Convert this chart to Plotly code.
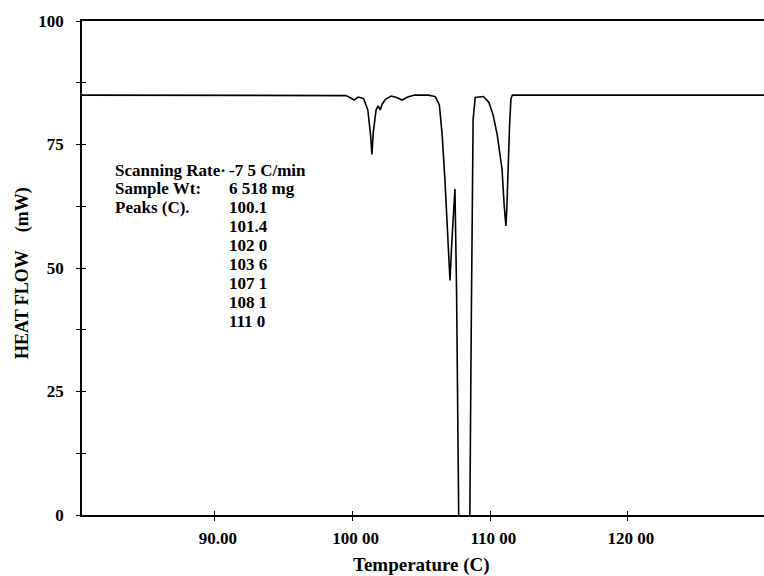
import plotly.graph_objects as go

# ---- data ----
temperature = [80.34, 85.0, 90.0, 95.0, 98.0, 99.5, 99.8, 100.1, 100.4, 100.8, 101.1, 101.3,
               101.4, 101.5, 101.7, 101.85, 102.0, 102.15, 102.4, 102.8, 103.2, 103.6, 104.0,
               104.5, 105.5, 106.0, 106.3, 106.5, 106.7, 106.9, 107.07, 107.2, 107.33, 107.43,
               107.55, 107.72, 107.9, 108.3, 108.5, 108.62, 108.75, 108.9, 109.2, 109.5, 109.9,
               110.2, 110.5, 110.85, 111.0, 111.13, 111.2, 111.28, 111.4, 111.5, 111.6, 112.0,
               115.0, 120.0, 125.0, 130.0]
heat_flow = [85.0, 85.0, 85.0, 85.0, 85.0, 84.9, 84.5, 84.0, 84.6, 84.3, 82.0, 77.0,
             73.0, 77.5, 82.0, 82.8, 82.0, 83.2, 84.2, 84.8, 84.5, 84.0, 84.6,
             85.0, 85.0, 84.7, 83.0, 77.0, 68.0, 57.0, 47.5, 55.0, 63.0, 66.0,
             45.0, -5.0, -5.0, -5.0, -5.0, 40.0, 80.0, 84.5, 84.6, 84.7, 83.5,
             81.0, 77.0, 70.0, 63.0, 58.5, 62.0, 70.0, 79.0, 84.3, 85.0, 85.0,
             85.0, 85.0, 85.0, 85.0]

x_tick_values = [90, 100, 110, 120]
x_tick_labels = ["90.00", "100 00", "110 00", "120 00"]
y_tick_values = [0, 25, 50, 75, 100]
y_tick_labels = ["0", "25", "50", "75", "100"]

info_labels = ["Scanning Rate·", "Sample Wt:", "Peaks (C)."]
info_values = ["-7 5 C/min", "6 518 mg", "100.1", "101.4", "102 0", "103 6",
               "107 1", "108 1", "111 0"]

x_title = "Temperature (C)"
y_title = "HEAT FLOW\u00a0\u00a0\u00a0\u00a0(mW)"

# ---- figure ----
FONT = "Liberation Serif"
fig = go.Figure()
fig.add_trace(go.Scatter(x=temperature, y=heat_flow, mode="lines",
                         line=dict(color="black", width=1.6), showlegend=False,
                         hoverinfo="skip"))
# invisible trace to carry the overlay axes (inside half of the cross ticks)
fig.add_trace(go.Scatter(x=[temperature[0]], y=[heat_flow[0]], xaxis="x2", yaxis="y2",
                         mode="markers", marker=dict(opacity=0), showlegend=False,
                         hoverinfo="skip"))

xr = [80.34, 129.88]
yr = [0, 100]

fig.update_layout(
    width=764, height=576,
    margin=dict(l=82, r=0, t=21, b=61),
    paper_bgcolor="white", plot_bgcolor="white",
    font=dict(family=FONT, size=17, color="black", weight="bold"),
    xaxis=dict(range=xr, tickvals=x_tick_values, ticktext=x_tick_labels,
               showgrid=False, zeroline=False, showline=True, linecolor="black",
               linewidth=1.6, mirror=True, ticks="outside", ticklen=4, tickwidth=1.2,
               tickcolor="black", ticklabelstandoff=3, ticklabelshift=3,
               tickfont=dict(family=FONT, size=17, weight="bold")),
    yaxis=dict(range=yr, tickvals=y_tick_values, ticktext=y_tick_labels,
               showgrid=False, zeroline=False, showline=True, linecolor="black",
               linewidth=1.6, ticks="outside", ticklen=4, tickwidth=1.2,
               tickcolor="black", ticklabelstandoff=9,
               minor=dict(dtick=12.5, tick0=0, ticks="outside", ticklen=4,
                          tickwidth=1.2, tickcolor="black"),
               tickfont=dict(family=FONT, size=17, weight="bold")),
    xaxis2=dict(range=xr, overlaying="x", anchor="y", side="bottom",
                tickvals=x_tick_values, showticklabels=False, ticks="inside",
                ticklen=4, tickwidth=1.2, tickcolor="black", showgrid=False,
                zeroline=False, showline=False),
    yaxis2=dict(range=yr, overlaying="y", anchor="x", side="left",
                tickvals=y_tick_values, showticklabels=False, ticks="inside",
                ticklen=4, tickwidth=1.2, tickcolor="black", showgrid=False,
                zeroline=False, showline=False,
                minor=dict(dtick=12.5, tick0=0, ticks="inside", ticklen=4,
                           tickwidth=1.2, tickcolor="black")),
)

PW, PH, L, T = 682.0, 494.0, 82.0, 21.0

def px(xp):
    return (xp - L) / PW

def py(yp):
    return (T + PH - yp) / PH

ann = []
ann.append(dict(text=x_title, x=px(421), y=py(565), xref="paper", yref="paper",
                showarrow=False, xanchor="center", yanchor="middle",
                font=dict(family=FONT, size=19, weight="bold")))
ann.append(dict(text=y_title, x=px(22), y=py(273), xref="paper", yref="paper",
                showarrow=False, xanchor="center", yanchor="middle", textangle=-90,
                font=dict(family=FONT, size=18, weight="bold")))

row0, dy = 170.0, 18.9
for i, lab in enumerate(info_labels):
    ann.append(dict(text=lab, x=px(113), y=py(row0 + i * dy), xref="paper", yref="paper",
                    showarrow=False, xanchor="left", yanchor="middle",
                    font=dict(family=FONT, size=17, weight="bold")))
for i, val in enumerate(info_values):
    ann.append(dict(text=val, x=px(227), y=py(row0 + i * dy), xref="paper", yref="paper",
                    showarrow=False, xanchor="left", yanchor="middle",
                    font=dict(family=FONT, size=17, weight="bold")))
fig.update_layout(annotations=ann)

fig.write_html("out.html")
